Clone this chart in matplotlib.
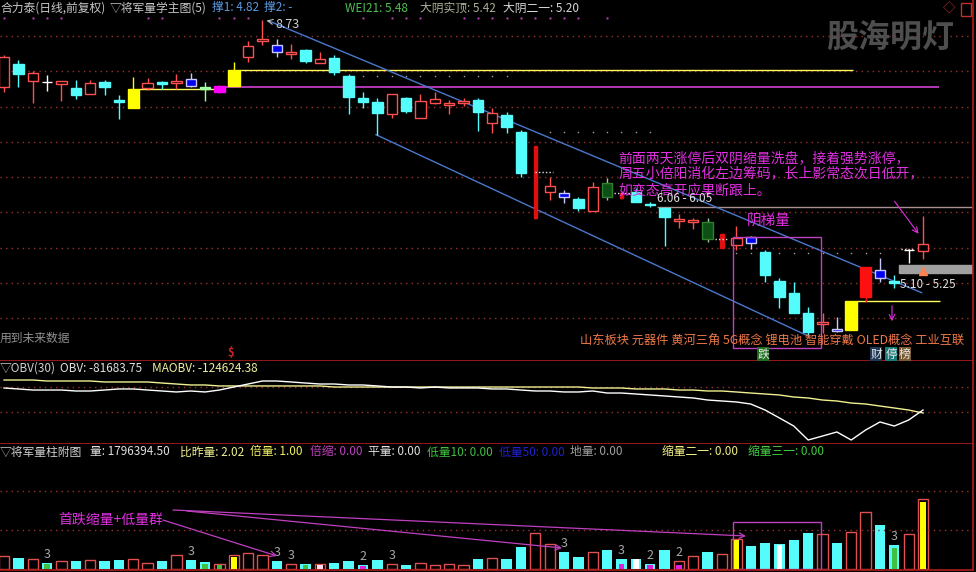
import matplotlib
matplotlib.use("Agg")
import matplotlib.pyplot as plt
from matplotlib.patches import Rectangle

plt.rcParams['font.family'] = ['Noto Sans CJK SC', 'DejaVu Sans']

# ---- daily candles (price) ----
opens = [7.73, 8.07, 7.82, 7.80, 7.77, 7.71, 7.62, 7.80, 7.53, 7.41,
         7.71, 7.80, 7.79, 7.85, 7.73, 7.74, 7.74, 8.18, 8.42, 8.36,
         8.22, 8.28, 8.09, 8.16, 7.89, 7.56, 7.50, 7.32, 7.56, 7.26,
         7.49, 7.46, 7.49, 7.53, 7.19, 7.31, 7.05, 5.76, 6.15, 6.14,
         6.05, 5.87, 6.29, 6.06, 6.15, 5.97, 5.91, 5.72, 5.70, 5.70,
         5.31, 5.36, 5.48, 5.25, 4.82, 4.64, 4.34, 4.17, 4.10, 4.08,
         4.58, 4.98, 4.82, 5.28, 5.27]
highs = [8.21, 8.13, 7.97, 7.91, 7.82, 7.83, 7.83, 7.83, 7.61, 7.88,
         7.86, 7.82, 7.92, 7.94, 7.80, 7.76, 8.10, 8.42, 8.73, 8.45,
         8.37, 8.30, 8.25, 8.21, 7.92, 7.65, 7.56, 7.62, 7.58, 7.62,
         7.65, 7.53, 7.56, 7.56, 7.41, 7.35, 7.08, 6.84, 6.38, 6.18,
         6.08, 6.30, 6.36, 6.15, 6.21, 6.00, 5.93, 5.82, 5.76, 5.76,
         5.52, 5.64, 5.49, 5.28, 4.86, 4.80, 4.43, 4.34, 4.28, 4.52,
         5.03, 5.16, 4.91, 5.28, 5.79]
lows = [7.65, 7.73, 7.49, 7.67, 7.52, 7.55, 7.62, 7.61, 7.25, 7.41,
        7.68, 7.70, 7.70, 7.73, 7.52, 7.64, 7.74, 8.10, 8.36, 8.18,
        8.15, 8.09, 8.09, 7.91, 7.32, 7.41, 7.01, 7.26, 7.34, 7.26,
        7.47, 7.32, 7.44, 7.07, 7.04, 7.04, 6.38, 5.75, 6.03, 5.99,
        5.87, 5.87, 6.03, 6.05, 6.00, 5.93, 5.34, 5.61, 5.60, 5.40,
        5.31, 5.28, 5.30, 4.80, 4.41, 4.34, 4.01, 4.04, 4.05, 4.08,
        4.50, 4.80, 4.71, 5.09, 5.15]
closes = [8.18, 7.92, 7.94, 7.80, 7.82, 7.61, 7.79, 7.73, 7.50, 7.70,
          7.79, 7.77, 7.82, 7.74, 7.70, 7.65, 7.98, 8.34, 8.45, 8.25,
          8.25, 8.12, 8.15, 7.95, 7.58, 7.50, 7.34, 7.62, 7.37, 7.52,
          7.55, 7.49, 7.52, 7.35, 7.34, 7.13, 6.44, 6.84, 6.24, 6.08,
          5.91, 6.23, 6.08, 6.14, 6.00, 5.96, 5.78, 5.75, 5.73, 5.45,
          5.52, 5.46, 5.39, 4.91, 4.58, 4.34, 4.05, 4.20, 4.07, 4.52,
          5.03, 4.86, 4.79, 5.28, 5.37]
# r hollow red, R solid red, N narrow red, c cyan, y yellow, b blue,
# m magenta, g dark green, w white, l light green
kinds = list("rcrwrcrccy" "rcrblmyrrb" "rcrccccrcr" "rrrcrccNrb"
             "crgNcccrrg" "Nrbccccrby" "Rbcwr")

# ---- volume (10k shares) ----
vols = [33.4, 28.2, 25.7, 15.4, 20.5, 20.5, 23.1, 20.5, 23.1, 25.7,
        15.4, 20.5, 35.9, 23.1, 18.0, 12.8, 35.9, 41.1, 35.9, 20.5,
        12.8, 12.8, 12.8, 15.4, 20.5, 10.3, 23.1, 12.8, 10.3, 15.4,
        10.3, 12.8, 10.3, 25.7, 28.2, 25.7, 56.5, 92.4, 64.2, 43.6,
        30.8, 43.6, 48.8, 25.7, 25.7, 12.8, 48.8, 20.5, 33.4, 43.6,
        38.5, 77.0, 59.0, 66.7, 64.2, 74.4, 92.4, 89.8, 66.7, 94.9,
        146.3, 112.9, 61.6, 89.8, 179.64]
vol_kind = list("rcrcrcrccr" "rcrccrrrrc" "rcrccccrcr" "rrrcrccrrc"
                "crcccccrrc" "rrcccccrcr" "rccrr")
inner_idx = [3, 14, 15, 16, 21, 22, 25, 43, 44, 45, 47, 51, 54, 62, 64]
inner_vol = [12.8, 12.8, 10.3, 30.8, 10.3, 10.3, 7.7, 12.8, 25.7, 10.3,
             10.3, 74.4, 61.6, 53.9, 171.9]
inner_col = ['#40c040', '#40c040', '#40c040', '#ffff00', '#40c040', '#ffe0f0',
             '#e020e0', '#e020e0', '#ffffff', '#e020e0', '#e020e0', '#ffff00',
             '#ffffff', '#40c040', '#ffff00']
mark_idx = [3, 13, 19, 20, 25, 27, 39, 43, 45, 47, 62]
mark_txt = ['3', '3', '3', '3', '2', '3', '3', '3', '2', '2', '3']

# ---- OBV (10k) ----
obv = [23.3, 21.9, 20.4, 20.4, 20.4, 19.0, 19.0, 20.4, 21.9, 21.9,
       20.4, 19.0, 17.6, 19.0, 17.6, 20.4, 24.7, 29.0, 33.3, 33.3,
       31.9, 30.4, 29.0, 29.0, 27.6, 27.6, 26.2, 24.7, 24.7, 23.3,
       24.7, 23.3, 23.3, 23.3, 21.9, 21.9, 20.4, 19.0, 19.0, 17.6,
       17.6, 19.0, 16.1, 16.1, 14.7, 13.3, 11.9, 10.4, 9.0, 6.1,
       4.7, 3.3, 0.4, -8.2, -19.6, -31.1, -51.1, -45.4, -39.6, -51.1,
       -36.8, -25.3, -31.1, -22.5, -8.17]
maobv = [34.7, 34.7, 34.7, 33.3, 33.3, 33.3, 33.3, 31.9, 31.9, 31.9,
         31.9, 30.4, 29.0, 27.6, 27.6, 26.2, 26.2, 26.2, 26.2, 26.2,
         26.2, 26.2, 26.2, 24.7, 24.7, 24.7, 24.7, 24.7, 24.7, 24.7,
         24.7, 24.7, 24.7, 24.7, 24.7, 24.7, 24.7, 24.7, 24.7, 24.7,
         24.7, 23.3, 23.3, 23.3, 21.9, 21.9, 21.9, 20.4, 20.4, 19.0,
         19.0, 17.6, 16.1, 14.7, 13.3, 10.4, 9.0, 6.1, 4.7, 1.8,
         0.4, -2.5, -5.3, -8.2, -12.46]

sectors = "山东板块 元器件 黄河三角 5G概念 锂电池 智能穿戴 OLED概念 工业互联"
note_lines = ["前面两天涨停后双阴缩量洗盘，接着强势涨停，",
              "周五小倍阳消化左边筹码，长上影常态次日低开，",
              "如变态高开应果断跟上。"]

W, H = 976, 572
RED_LINE = '#b01c1c'
GRID = '#9a3232'
MAG = '#e030e0'
CYAN = '#54fcfc'
RED = '#ff5050'

fig = plt.figure(figsize=(W / 100, H / 100), dpi=100, facecolor='black')


def panel(top, bottom):
    a = fig.add_axes([0, 1 - bottom / H, 973 / W, (bottom - top) / H])
    a.set_facecolor('black')
    a.set_xlim(-0.28, 67.48)
    a.set_xticks([])
    a.set_yticks([])
    for s in a.spines.values():
        s.set_visible(False)
    for s in ('bottom', 'right'):
        a.spines[s].set_visible(True)
        a.spines[s].set_color(RED_LINE)
        a.spines[s].set_linewidth(1.2)
    return a


ax = panel(0, 361)
ax2 = panel(361, 444)
ax3 = panel(444, 570)
ax.set_ylim(3.615, 9.03)
ax2.set_ylim(-56.8, 61.9)
ax3.set_ylim(-2.57, 320.8)


def ft(x, y, s, color, size=8.5, **kw):
    kw.setdefault('va', 'center')
    return fig.text(x / W, 1 - y / H, s, color=color, fontsize=size, **kw)


# ---- main panel ----
for p in [8.49, 7.965, 7.425, 6.9, 6.375, 5.85, 5.31, 4.785, 4.26]:
    ax.axhline(p, color=GRID, lw=1, ls=(0, (1, 3)), zorder=0)

styles = {
    'r': (RED, 'black', RED, 0.72),
    'R': ('#ff1010', '#ff1010', '#ff1010', 0.72),
    'N': ('#e01010', '#e01010', '#e01010', 0.25),
    'c': (CYAN, CYAN, CYAN, 0.72),
    'y': ('#ffff00', '#ffff00', '#ffff00', 0.8),
    'b': ('#c8c8ff', '#0000f0', '#c8c8ff', 0.72),
    'm': ('#ff00ff', '#ff00ff', '#ff00ff', 0.72),
    'g': ('#9fcf9f', '#0d5016', '#2f7f2f', 0.72),
    'w': ('#ffffff', '#ffffff', '#ffffff', 0.72),
    'l': ('#a0ffa0', '#a0ffa0', '#a0ffa0', 0.72),
}
for i in range(len(opens)):
    wick, face, edge, w = styles[kinds[i]]
    ax.vlines(i, lows[i], highs[i], color=wick, lw=1, zorder=2)
    bot = min(opens[i], closes[i])
    h = max(abs(closes[i] - opens[i]), 0.003)
    ax.add_patch(Rectangle((i - w / 2, bot), w, h, facecolor=face,
                           edgecolor=edge, lw=1, zorder=3))

# horizontal levels
ax.hlines(7.70, 9.4, 15.0, color='#ffff60', lw=1, zorder=1)
ax.hlines(7.98, 16.4, 59.1, color='#ffff60', lw=1, zorder=1)
ax.hlines(7.73, 15.4, 65.1, color='#d040d0', lw=1.2, zorder=1)
ax.hlines(5.92, 45.5, 67.5, color='#a89090', lw=1, zorder=1)
ax.hlines(4.52, 59.4, 65.2, color='#ffff60', lw=1, zorder=1)
ax.add_patch(Rectangle((62.3, 4.935), 5.2, 0.12, color='#a0a0a0', zorder=1))
ax.plot(64, 4.96, marker='^', color='#ff8050', ms=6, zorder=4)

# dotted markers
ax.plot([0, 2, 3, 4, 10, 11, 15, 16, 17, 25, 27, 28, 29, 32, 33, 34, 35, 36,
         37, 38, 39, 40, 42], [8.76] * 23, ls='none', marker='s', ms=1.4,
        mew=0, color='#c040c0')
ax.plot(range(25, 36), [7.89] * 11, ls='none', marker='s', ms=1, mew=0, color='#a0a0a0')
ax.plot(range(38, 46), [7.05] * 8, ls='none', marker='s', ms=1, mew=0, color='#a0a0a0')
ax.plot(range(51, 62), [5.235] * 11, ls='none', marker='s', ms=1, mew=0, color='#a0a0a0')
for x0, x1, p in [(37.0, 38.2, 6.45), (42.5, 43.7, 6.135), (49.5, 50.4, 5.445),
                  (62.5, 63.4, 5.295)]:
    ax.hlines(p, x0, x1, color='#e0e0e0', lw=1, ls=(0, (1, 1.5)), zorder=4)

# channel lines
ax.plot([18.4, 63.9], [8.72, 4.64], color='#4a78cc', lw=1, zorder=1)
ax.plot([25.9, 56.1], [7.01, 3.98], color='#4a78cc', lw=1, zorder=1)

ax.annotate('8.73', xy=(18.1, 8.73), xytext=(18.9, 8.655), color='#d0d0d0',
            fontsize=9, va='center',
            arrowprops=dict(arrowstyle='->', color='#c0c0c0', lw=0.8))
ax.text(45.5, 6.045, '6.06 - 6.05', color='#e0e0e0', fontsize=8.5, va='center', zorder=5)
ax.text(62.4, 4.77, '5.10 - 5.25', color='#e0e0e0', fontsize=8.5, va='center', zorder=5)

ax.add_patch(Rectangle((50.8, 3.81), 6.1, 1.665, fill=False, edgecolor='#c040c0',
                       lw=1, zorder=5))
ax.text(51.7, 5.715, '阴梯量', color=MAG, fontsize=10.5, va='center')
for line, p in zip(note_lines, [6.66, 6.42, 6.165]):
    ax.text(42.8, p, line, color=MAG, fontsize=10, va='center', zorder=4)
ax.annotate('', xy=(63.8, 5.49), xytext=(61.9, 6.045),
            arrowprops=dict(arrowstyle='->', color=MAG, lw=0.8))
ax.annotate('', xy=(61.84, 4.17), xytext=(61.84, 4.485),
            arrowprops=dict(arrowstyle='->', color=MAG, lw=0.8))

# ---- OBV panel ----
for v in [24.7, -11.0]:
    ax2.axhline(v, color=GRID, lw=1, ls=(0, (1, 3)))
ax2.plot(range(len(maobv)), maobv, color='#f0f090', lw=1)
ax2.plot(range(len(obv)), obv, color='#ffffff', lw=1)

# ---- volume panel ----
for v in [100, 200]:
    ax3.axhline(v, color=GRID, lw=1, ls=(0, (1, 3)))
for i, v in enumerate(vols):
    if vol_kind[i] == 'r':
        ax3.bar(i, v, width=0.72, facecolor='black', edgecolor='#e05050', lw=1)
    else:
        ax3.bar(i, v, width=0.72, color=CYAN)
ax3.bar(inner_idx, inner_vol, width=0.38, color=inner_col, zorder=3)
for i, t in zip(mark_idx, mark_txt):
    ax3.text(i, vols[i] + 4, t, color='#a8a8a8', fontsize=9, ha='center', va='bottom')
ax3.add_patch(Rectangle((50.8, 0), 6.1, 120.6, fill=False, edgecolor='#c040c0', lw=1))
ax3.text(3.76, 125.7, '首跌缩量+低量群', color=MAG, fontsize=10, va='center')
for (x0, y0), (x1, y1) in [((11.07, 125.7), (19.01, 33.4)),
                           ((11.77, 151.4), (51.67, 84.7)),
                           ((12.74, 148.8), (38.86, 53.9))]:
    ax3.annotate('', xy=(x1, y1), xytext=(x0, y0),
                 arrowprops=dict(arrowstyle='->', color='#c040c0', lw=0.9,
                                 shrinkA=0, shrinkB=0))

# ---- header texts ----
ft(0, 8, '合力泰(日线,前复权)', '#c8c8c8')
ft(110, 8, '▽将军量学主图(5)', '#c8c8c8')
ft(212, 8, '撑1: 4.82', '#5a9ae0')
ft(264, 8, '撑2: -', '#5a9ae0')
ft(345, 8, 'WEI21: 5.48', '#50c050')
ft(420, 8, '大阴实顶: 5.42', '#b0b098')
ft(503, 8, '大阴二一: 5.20', '#d8d8d8')
ft(826, 38, '股海明灯', '#4e4e4e', size=23, weight='bold')
ft(943, 9, '◇', '#c03030', size=9)
fig.add_artist(Rectangle((961 / W, 1 - 16 / H), 10 / W, 13 / H, fill=False,
                         edgecolor='#c03030', lw=1, transform=fig.transFigure))

ft(0, 338, '用到未来数据', '#909090')
ft(231, 352, '$', '#d02020', size=8, ha='center', weight='bold')
ft(580, 341, sectors, '#f07848', size=8.8)
for x, s, bg in [(763, '跌', '#207020'), (876, '财', '#203858'),
                 (891, '停', '#1a7a7a'), (905, '榜', '#7a5a30')]:
    ft(x, 354, s, '#e8e8e8', size=8.5, ha='center',
       bbox=dict(boxstyle='square,pad=0.05', facecolor=bg, edgecolor='none'))

ft(0, 368, '▽OBV(30)', '#d0d0d0')
ft(60, 368, 'OBV: -81683.75', '#e0e0e0')
ft(152, 368, 'MAOBV: -124624.38', '#f0f0a0')

for x, s, c in [(0, '▽将军量柱附图', '#d0d0d0'), (90, '量: 1796394.50', '#e0e0e0'),
                (180, '比昨量: 2.02', '#f0f090'), (250, '倍量: 1.00', '#f0f060'),
                (310, '倍缩: 0.00', '#c040c0'), (368, '平量: 0.00', '#e0e0e0'),
                (427, '低量10: 0.00', '#40c040'), (499, '低量50: 0.00', '#2020c8'),
                (570, '地量: 0.00', '#a0a0a0'), (662, '缩量二一: 0.00', '#f0f080'),
                (748, '缩量三一: 0.00', '#40d040')]:
    ft(x, 452, s, c)

fig.savefig('out.png', dpi=100, facecolor='black')
